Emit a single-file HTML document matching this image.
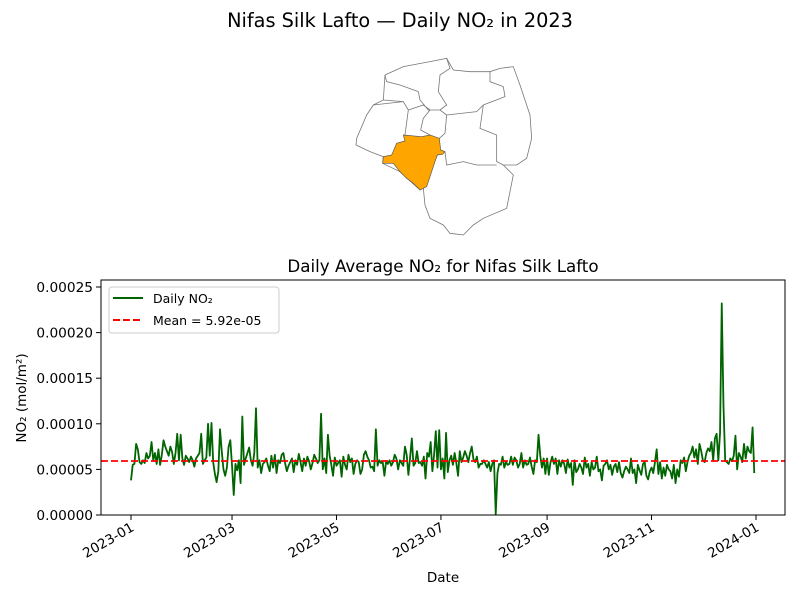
<!DOCTYPE html>
<html><head><meta charset="utf-8"><style>
body{margin:0;background:#fff;}
svg text{font-family:"DejaVu Sans","Liberation Sans",sans-serif;}
</style></head><body>
<svg id="fig" width="800" height="600" viewBox="0 0 800 600" xmlns="http://www.w3.org/2000/svg">
<rect width="800" height="600" fill="#fff"/>
<text x="400" y="27" text-anchor="middle" font-size="19.3">Nifas Silk Lafto — Daily NO₂ in 2023</text>
<g transform="translate(350,55) scale(0.3333)" stroke="#777" stroke-width="2.4" fill="#fff">
<path d="M105,60 L160,35 L240,20 L290,10 L310,45 L360,50 L420,50 L450,40 L490,35 L510,90 L540,180 L545,250 L530,310 L500,330 L460,330 L490,360 L480,410 L470,460 L400,490 L370,510 L340,540 L300,535 L280,510 L240,490 L225,450 L220,400 L210,405 L150,350 L98,325 L100,305 L60,290 L18,270 L20,250 L50,180 L70,150 L100,135 Z"/>
<path fill="none" d="M105,60 L110,80 L150,90 L205,110 M290,10 L300,40 L270,60 L265,110 L290,150 L270,165 M420,50 L420,80 L460,95 L465,125 L400,150 L380,170 L290,180 M100,135 L160,140 L175,165 L220,150 L240,165 M205,110 L210,135 L235,165 L270,165 L290,180 L285,235 L268,250 M240,165 L220,190 L212,225 L240,240 M400,150 L390,220 L440,240 L440,320 L460,330 M285,290 L290,330 L340,320 L380,330 L440,330 M175,165 L165,240 M70,150 L160,140"/>
<path fill="#ffa500" stroke="#555" stroke-width="2" d="M160,240 L215,245 L240,240 L268,250 L272,285 L285,290 L278,298 L262,300 L255,320 L245,350 L230,395 L210,405 L190,385 L170,370 L150,350 L130,325 L98,325 L100,305 L125,300 L140,265 L165,258 Z"/>
</g>
<text x="443" y="272" text-anchor="middle" font-size="16.7">Daily Average NO₂ for Nifas Silk Lafto</text>
<g id="plot"></g>
<rect x="101" y="280" width="684" height="235" fill="none" stroke="#000" stroke-width="1"/>
<text x="443" y="582" text-anchor="middle" font-size="13.5">Date</text>
<text transform="translate(26,398) rotate(-90)" text-anchor="middle" font-size="13.5">NO₂ (mol/m²)</text>
<g>
<rect x="109" y="287" width="170" height="46" rx="3" fill="#fff" fill-opacity="0.8" stroke="#ccc"/>
<line x1="113" y1="298" x2="143" y2="298" stroke="#006400" stroke-width="2"/>
<text x="153" y="303" font-size="12.5">Daily NO₂</text>
<line x1="113" y1="320" x2="143" y2="320" stroke="#f00" stroke-width="2" stroke-dasharray="7,3"/>
<text x="153" y="325" font-size="12.5">Mean = 5.92e-05</text>
</g>
</svg>
<script>
const values = [
3.8,5.5,5.6,7.8,7.2,5.8,5.6,6.0,5.7,6.8,6.2,6.5,8.0,6.0,6.8,5.6,7.2,5.5,6.6,8.2,7.5,7.0,6.5,7.5,6.9,5.6,6.8,8.9,6.0,8.8,6.2,
5.5,6.5,6.2,5.8,6.4,6.0,5.3,6.2,6.5,6.8,8.9,5.6,6.0,6.3,10.0,6.5,10.1,5.8,4.5,3.6,4.8,9.4,7.0,5.0,4.3,5.2,7.5,8.2,
5.4,2.2,5.6,4.9,6.0,3.5,10.8,5.5,6.2,6.8,7.4,6.0,5.4,6.8,11.7,5.2,6.0,4.6,5.6,5.8,6.2,5.4,4.8,6.5,5.2,6.6,4.6,6.0,5.7,6.6,6.8,
5.7,4.8,5.4,5.8,6.2,4.7,6.0,5.5,6.7,5.8,4.8,6.2,5.4,6.4,5.9,5.0,5.7,6.6,6.2,5.7,6.0,11.1,5.0,6.2,4.6,8.8,6.5,5.5,4.3,6.3,
5.4,5.7,6.0,4.2,6.4,5.5,5.0,6.6,5.8,6.2,4.5,5.6,6.0,5.8,4.5,5.0,6.6,7.0,6.4,6.0,5.2,5.3,4.8,9.4,5.4,6.0,5.7,5.8,4.3,5.9,5.6,
6.0,5.4,5.8,6.6,6.2,5.0,6.0,5.7,5.4,7.5,6.6,4.4,6.3,8.4,5.4,5.7,7.0,5.7,5.8,5.4,6.4,4.0,6.8,6.4,8.0,4.8,6.6,9.2,5.2,9.3,
5.0,6.2,4.0,9.0,4.7,6.0,6.5,5.5,6.8,5.7,4.3,7.0,5.8,6.3,7.0,6.5,5.8,6.8,7.5,6.1,5.8,6.4,5.2,5.6,5.6,6.0,5.6,5.2,5.8,4.8,5.6,
6.0,0.1,4.6,5.6,5.5,6.4,5.2,5.8,5.5,5.6,6.4,5.5,6.3,6.0,5.2,5.6,6.8,5.2,6.0,5.5,5.6,6.3,5.3,4.5,6.0,5.8,8.8,6.5,5.2,6.2,4.5,
6.2,4.4,5.8,6.4,5.6,6.2,4.5,6.0,5.3,6.0,5.6,4.6,6.1,5.2,5.7,3.3,6.0,4.7,5.0,5.6,5.2,4.5,6.3,5.2,5.6,4.3,5.8,5.0,5.2,6.4,
4.8,5.0,3.8,5.4,5.6,6.0,5.0,5.5,4.4,5.3,5.6,4.7,5.8,4.6,4.1,4.8,5.3,5.0,4.6,6.2,4.6,5.0,3.5,5.5,4.9,4.4,5.6,5.8,4.3,3.9,4.8,
5.2,4.6,5.8,7.2,4.5,5.8,4.0,5.2,4.3,5.5,5.0,4.8,4.0,5.5,3.5,5.0,4.2,6.0,5.7,6.3,4.8,5.8,6.5,6.8,7.5,6.3,7.2,5.6,7.8,7.0,
6.0,5.8,6.8,7.3,7.0,8.0,6.0,8.4,8.9,6.0,9.0,23.2,12.0,6.0,5.8,5.6,6.2,5.9,6.5,8.7,5.0,6.8,6.4,5.8,7.8,6.2,7.5,7.0,6.8,9.6,4.6
];
const meanValue = 5.92;
const yTicks = [0,5,10,15,20,25];
const yTickLabels = ["0.00000","0.00005","0.00010","0.00015","0.00020","0.00025"];
const xTickDays = [0,59,120,181,243,304,365];
const xTickLabels = ["2023-01","2023-03","2023-05","2023-07","2023-09","2023-11","2024-01"];

const NS="http://www.w3.org/2000/svg";
const g=document.getElementById('plot');
function xs(d){return 131+d*(625/365);}
function ys(v){return 515-v*(228/25);}
function mk(t,a){const e=document.createElementNS(NS,t);for(const k in a)e.setAttribute(k,a[k]);g.appendChild(e);return e;}
yTicks.forEach((v,i)=>{
  const l=mk('line',{x1:96,x2:101,y1:ys(v),y2:ys(v),stroke:'#000'});
  
  
  const t=mk('text',{x:93,y:ys(v)+5,'text-anchor':'end','font-size':13.7});
  t.textContent=yTickLabels[i];
  
  
});
xTickDays.forEach((d,i)=>{
  const x=xs(d);
  const l=mk('line',{x1:x,x2:x,y1:515,y2:520,stroke:'#000'});
  
  
  const t=mk('text',{transform:`translate(${x+4},${530}) rotate(-30)`,'text-anchor':'end','font-size':13.5});
  t.textContent=xTickLabels[i];
  
  
});
const pts=values.map((v,i)=>xs(i).toFixed(2)+','+ys(v).toFixed(2)).join(' ');
const line=mk('polyline',{points:pts,fill:'none',stroke:'#006400','stroke-width':1.8,'stroke-linejoin':'round'});


const m=mk('line',{x1:101,x2:785,y1:ys(meanValue),y2:ys(meanValue),stroke:'#f00','stroke-width':1.8,'stroke-dasharray':'7,3'});


</script>
</body></html>
